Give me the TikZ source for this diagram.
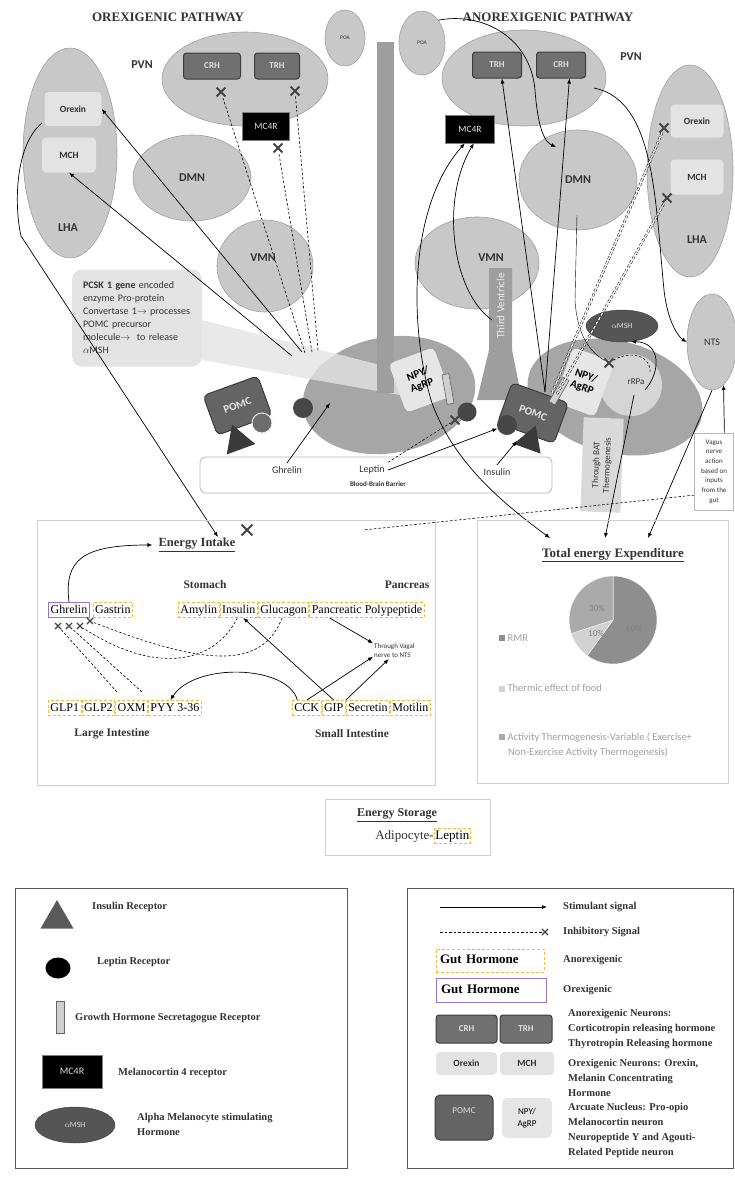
\documentclass[tikz,border=0pt]{standalone}
\usepackage{fontspec}
\setmainfont{Liberation Serif}
\setsansfont{Carlito}
\usepackage{tikz}
\usetikzlibrary{arrows.meta,shapes.geometric,shapes.misc,positioning}
\newcommand{\fsz}[1]{\fontsize{#1}{#1}\selectfont}
\newcommand{\lsz}[2]{\fontsize{#1}{#2}\selectfont}
\newcommand{\sq}[1]{\textcolor{#1}{\rule{6pt}{6pt}}}
\definecolor{nucfill}{HTML}{C8C8C8}
\definecolor{nucline}{HTML}{A0A0A0}
\definecolor{arcfill}{HTML}{A6A6A6}
\definecolor{neurfill}{HTML}{707070}
\definecolor{neurline}{HTML}{3C3C3C}
\definecolor{neurtext}{HTML}{E0E0E0}
\definecolor{boxfill}{HTML}{E3E3E3}
\definecolor{pomcfill}{HTML}{646464}
\definecolor{npyfill}{HTML}{E6E6E6}
\definecolor{stemgray}{HTML}{9E9E9E}
\definecolor{xgray}{HTML}{444444}
\definecolor{gutyellow}{HTML}{F2BE2C}
\definecolor{gutpurple}{HTML}{9575C8}
\definecolor{panelline}{HTML}{D0D0D0}
\definecolor{labdark}{HTML}{333333}
\definecolor{txtgray}{HTML}{9E9E9E}
\definecolor{pieA}{HTML}{8E8E8E}
\definecolor{pieB}{HTML}{D2D2D2}
\definecolor{pieC}{HTML}{AAAAAA}
\definecolor{lepfill}{HTML}{474747}
\definecolor{insfill}{HTML}{3A3A3A}
\definecolor{ghsrfill}{HTML}{CFCFCF}
\definecolor{ghsrline}{HTML}{666666}
\definecolor{amshfill}{HTML}{555555}
\definecolor{rrpafill}{HTML}{D5D5D5}
\definecolor{batfill}{HTML}{D9D9D9}
\definecolor{bbbline}{HTML}{B8B8B8}
\definecolor{legtri}{HTML}{5A5A5A}

\tikzset{
  nucleus/.style={ellipse, draw=nucline, fill=nucfill, line width=0.6pt, inner sep=0pt,
    text=labdark, font=\sffamily\bfseries\fsz{12}},
  nuclab/.style={text=labdark, font=\sffamily\bfseries\fsz{12}},
  neuron/.style={rectangle, rounded corners=3pt, draw=neurline, fill=neurfill, line width=1pt,
    text=neurtext, font=\sffamily\bfseries\fsz{9}, inner sep=0pt},
  orexbox/.style={rectangle, rounded corners=4pt, fill=boxfill, text=labdark,
    font=\sffamily\bfseries\fsz{9.5}, inner sep=0pt},
  mcbox/.style={rectangle, fill=black, draw=gray, line width=0.6pt, text=neurtext,
    font=\sffamily\fsz{9.5}, inner sep=0pt},
  pomcbox/.style={rectangle, rounded corners=5pt, draw=neurline, fill=pomcfill, line width=1pt,
    text=white!90!black, font=\sffamily\bfseries\fsz{11}, inner sep=0pt},
  npybox/.style={rectangle, rounded corners=5pt, fill=npyfill, text=black, align=center,
    font=\sffamily\bfseries\lsz{11}{12}, inner sep=0pt},
  ghsr/.style={rectangle, draw=ghsrline, fill=ghsrfill, line width=0.6pt,
    minimum width=7, minimum height=28, inner sep=0pt},
  leprec/.style={circle, fill=lepfill, minimum size=19, inner sep=0pt},
  insrec/.style={regular polygon, regular polygon sides=3, fill=insfill, minimum size=34, inner sep=0pt},
  xmark/.style={cross out, draw=xgray, line width=1.8pt, minimum size=7, inner sep=0pt},
  xsmall/.style={cross out, draw=xgray, line width=1.1pt, minimum size=5, inner sep=0pt},
  sig/.style={-{Latex[length=5pt,width=4pt]}, line width=0.7pt},
  inh/.style={dash pattern=on 2.5pt off 2pt, line width=0.6pt},
  inhpair/.style={dash pattern=on 3pt off 2pt, double=white, double distance=1.4pt, line width=0.5pt},
  anorex/.style={draw=gutyellow, dash pattern=on 3pt off 2pt, line width=0.9pt, font=\fsz{12},
    text height=8.5pt, text depth=2.5pt, inner xsep=2pt, inner ysep=2pt},
  orex/.style={draw=gutpurple, line width=0.9pt, font=\fsz{12},
    text height=8.5pt, text depth=2.5pt, inner xsep=2pt, inner ysep=2pt},
  panel/.style={draw=panelline, line width=0.6pt},
  pathtitle/.style={font=\bfseries\fsz{13}, text=labdark},
  heading/.style={font=\bfseries\fsz{12.5}, text=labdark},
  organ/.style={font=\bfseries\fsz{11.5}, text=labdark},
  smalltxt/.style={font=\sffamily\fsz{10}, text=labdark},
  pielab/.style={font=\sffamily\fsz{9}, text=gray},
  pieleg/.style={font=\sffamily\lsz{10.5}{15}, text=txtgray, anchor=west, align=left, inner sep=0pt},
  legtxt/.style={font=\bfseries\lsz{10.5}{15}, text=labdark, anchor=west, align=left, inner sep=0pt}
}

\begin{document}
\begin{tikzpicture}[x=1pt,y=-1pt]
  \useasboundingbox (0,0) rectangle (734,1178);
  %\draw[help lines] (0,0) grid[step=50] (734,1178);

  % orexigenic pathway
  \node[pathtitle] (orextitle) at (168,17) {OREXIGENIC PATHWAY};
  \node[nucleus, minimum width=94, minimum height=210] (lhaL) at (70,153) {};
  \node[orexbox, minimum width=57, minimum height=34] (orexL) at (73,109) {Orexin};
  \node[orexbox, minimum width=54, minimum height=35] (mchL) at (69,155) {MCH};
  \node[nuclab] (lhaLlab) at (68,228) {LHA};
  \node[nucleus, minimum width=166, minimum height=94] (pvnL) at (245,79) {};
  \node[nuclab] (pvnLlab) at (142,65) {PVN};
  \node[neuron, minimum width=57, minimum height=26] (crhL) at (212,66) {CRH};
  \node[neuron, minimum width=45, minimum height=26] (trhL) at (277,66) {TRH};
  \node[mcbox, minimum width=47, minimum height=28] (mcL) at (266,126) {MC4R};
  \node[xmark] (xcrhL) at (221,92) {};
  \node[xmark] (xtrhL) at (295,91) {};
  \node[xmark] (xmcL) at (278,148) {};
  \node[nucleus, minimum width=40, minimum height=56, font=\sffamily\fsz{5.5}] (poaL) at (345,38) {POA};
  \node[nucleus, minimum width=118, minimum height=86] (dmnL) at (192,178) {DMN};
  \node[nucleus, minimum width=96, minimum height=92] (vmnL) at (265,266) {};
  \node[nuclab] (vmnLlab) at (263,258) {VMN};

  % anorexigenic pathway
  \node[pathtitle] (anortitle) at (548,17) {ANOREXIGENIC PATHWAY};
  \node[nucleus, minimum width=46, minimum height=64, font=\sffamily\fsz{5.5}] (poaR) at (422,43) {POA};
  \node[nucleus, minimum width=164, minimum height=96] (pvnR) at (524,78) {};
  \node[nuclab] (pvnRlab) at (631,57) {PVN};
  \node[neuron, minimum width=49, minimum height=26] (trhR) at (497,65) {TRH};
  \node[neuron, minimum width=49, minimum height=26] (crhR) at (561,65) {CRH};
  \node[mcbox, minimum width=49, minimum height=28] (mcR) at (470,129) {MC4R};
  \node[nucleus, minimum width=118, minimum height=100] (dmnR) at (578,180) {DMN};
  \node[nucleus, minimum width=124, minimum height=92] (vmnR) at (477,263) {};
  \node[nuclab] (vmnRlab) at (491,258) {VMN};
  \node[nucleus, minimum width=86, minimum height=212] (lhaR) at (690,171) {};
  \node[orexbox, minimum width=53, minimum height=33] (orexR) at (697,121) {Orexin};
  \node[orexbox, minimum width=53, minimum height=35] (mchR) at (697,177) {MCH};
  \node[nuclab] (lhaRlab) at (697,240) {LHA};
  \node[xmark] (xorexR) at (664,128) {};
  \node[xmark] (xmchR) at (667,198) {};

  % arcuate nucleus and ventricle
  \node[ellipse, fill=arcfill, minimum width=174, minimum height=116, rotate=10, inner sep=0pt] (arcL) at (389,395) {};
  \node[ellipse, fill=arcfill, minimum width=178, minimum height=112, rotate=-14, inner sep=0pt] (arcR) at (615,397) {};
  \fill[boxfill, opacity=0.8] (202,320) -- (400,370) -- (400,395) -- (202,360) -- cycle;
  \node[rectangle, rounded corners=10pt, fill=boxfill, minimum width=130, minimum height=97,
    text width=108, align=left, inner sep=0pt, font=\sffamily\lsz{10}{13}, text=labdark] (pcsk) at (137,318)
    {\textbf{PCSK 1 gene} encoded\\enzyme Pro-protein\\Convertase 1$\rightarrow$ processes\\POMC precursor\\molecule$\rightarrow$\ \ to release\\$\alpha$MSH};
  \node[rectangle, fill=stemgray, minimum width=17, minimum height=351, inner sep=0pt] (bar) at (385.5,217.5) {};
  \fill[stemgray] (489,268) -- (512,268) -- (512,350) -- (522,400) -- (477,400) -- (489,350) -- cycle;
  \node[rotate=90, font=\sffamily\fsz{11}, text=white!85!gray] (ventlab) at (500.5,306) {Third Ventricle};
  \node[circle, fill=rrpafill, minimum size=62, inner sep=0pt] (rrpa) at (631,385) {};
  \node[font=\sffamily\fsz{9}, text=labdark] (rrpalab) at (636,382) {rRPa};
  \node[ellipse, fill=amshfill, draw=neurline, minimum width=72, minimum height=32, inner sep=0pt,
    font=\sffamily\fsz{8}, text=neurtext] (amsh) at (622,326) {$\alpha$MSH};
  \node[nucleus, minimum width=50, minimum height=96, font=\sffamily\fsz{10}] (nts) at (712,342) {NTS};
  \node[rectangle, fill=batfill, minimum width=94, minimum height=40, rotate=88, inner sep=0pt,
    align=center, font=\sffamily\lsz{9}{11}, text=labdark] (bat) at (602,465) {Through BAT\\Thermogenesis};
  \node[rectangle, draw=bbbline, fill=white, line width=0.6pt, minimum width=39, minimum height=77,
    inner sep=0pt, align=center, font=\sffamily\lsz{7}{9.7}, text=labdark] (vagus) at (714,471.5)
    {Vagus\\nerve\\action\\based on\\inputs\\from the\\gut};

  % neurons of the arcuate nucleus
  \node[npybox, minimum width=48, minimum height=52, rotate=20] (npyL) at (420,380) {NPY/\\AgRP};
  \node[ghsr, minimum height=30, rotate=10] (ghsrL) at (448,389) {};
  \node[leprec] (lepNpyL) at (467,412) {};
  \node[xmark] (xnpyL) at (455,420) {};
  \node[leprec, minimum size=20] (lepArcL) at (303,408) {};
  \node[pomcbox, minimum width=58, minimum height=42, rotate=20] (pomcL) at (237.5,405.5) {POMC};
  \node[circle, fill=lepfill!80!white, draw=white!85!gray, line width=1pt, minimum size=20, inner sep=0pt] (lepPomcL) at (262,423) {};
  \node[insrec, minimum size=35, rotate=20] (triL) at (238,441) {};
  \node[npybox, minimum width=44, minimum height=58, rotate=-20] (npyR) at (584,382) {NPY/\\AgRP};
  \node[pomcbox, minimum width=60, minimum height=43, rotate=-20] (pomcR) at (533,413) {POMC};
  \node[ghsr, minimum height=28, rotate=-30] (ghsrR) at (559,391) {};
  \node[leprec, minimum size=20] (lepPomcR) at (507,425) {};
  \node[insrec, minimum size=33, rotate=-20] (triR) at (530,441) {};
  \node[xmark] (xrrpa) at (609,363) {};

  % blood-brain barrier
  \node[rectangle, rounded corners=6pt, draw=bbbline, fill=white, line width=0.8pt,
    minimum width=352, minimum height=36] (bbb) at (376,475) {};
  \node[smalltxt] (ghrelinB) at (287,470) {Ghrelin};
  \node[smalltxt] (leptinB) at (372,470) {Leptin};
  \node[smalltxt] (insulinB) at (497,472) {Insulin};
  \node[font=\sffamily\bfseries\fsz{7}, text=labdark] (bbblab) at (378,484) {Blood-Brain Barrier};

  % hypothalamic signals
  \coordinate (arcL1) at (302,352);
  \coordinate (arcL2) at (292,356);
  \coordinate (dL1) at (305,353);
  \coordinate (dL2) at (312,352);
  \coordinate (dL3) at (318,350);
  \coordinate (lhaOut) at (42,123);
  \coordinate (eiIn) at (218,537);
  \draw[sig] (arcL1) -- (orexL.east);
  \draw[sig] (arcL2) -- (mchL.south);
  \draw[inh] (dL1) -- (xcrhL);
  \draw[inh] (dL2) -- (xmcL);
  \draw[inh] (dL3) -- (xtrhL);
  \draw[sig] (lhaOut) .. controls (15,145) and (14,205) .. (21,236) -- (eiIn);

  \coordinate (dmnRin) at (556,147);
  \coordinate (pomcRtop) at (545,392);
  \coordinate (dmnRout) at (577,215);
  \coordinate (pvnRout) at (594,88);
  \coordinate (rrpaOut) at (645,390);
  \coordinate (rrpaDown) at (634,395);
  \coordinate (npyLpass) at (431,400);
  \coordinate (vmnRout) at (492,320);
  \coordinate (pomcRd1) at (552,393);
  \coordinate (pomcRd2) at (557,394);
  \coordinate (teeIn1) at (550,538);
  \coordinate (teeIn2) at (605,538);
  \coordinate (teeIn3) at (648,538);
  \coordinate (eiDash) at (363,530);
  \coordinate (arcLin) at (330,403);
  \draw[sig] (poaR.north east) .. controls (480,12) and (530,35) .. (535,90)
    .. controls (538,130) and (545,142) .. (dmnRin);
  \draw[sig] (pomcRtop) -- (trhR.-70);
  \draw[sig] (pomcRtop) -- (crhR.-58);
  \draw (dmnRout) -- (575,300) .. controls (577,335) and (590,352) .. (xrrpa);
  \draw[inh] (xrrpa) .. controls (630,350) and (652,355) .. (650,374);
  \draw[sig] (rrpaOut) .. controls (662,370) and (660,342) .. (amsh.-60);
  \draw[sig] (pvnRout) .. controls (655,100) and (655,200) .. (664,290)
    .. controls (668,325) and (680,338) .. (nts.west);
  \draw[sig] (npyLpass) .. controls (408,320) and (410,205) .. (mcR.-110);
  \draw[sig] (npyLpass) .. controls (452,462) and (505,505) .. (teeIn1);
  \draw[sig] (vmnRout) .. controls (452,292) and (440,200) .. (mcR.-75);
  \draw[inhpair] (pomcRd1) -- (xorexR);
  \draw[inhpair] (pomcRd2) -- (xmchR);
  \draw[sig] (rrpaDown) -- (teeIn2);
  \draw[sig] (nts.south) -- (teeIn3);
  \draw[sig] (vagus.75) -- (nts.-75);
  \draw[inh] (vagus.230) -- (eiDash);
  \draw[sig] (ghrelinB.north) -- (arcLin);
  \draw[sig] (leptinB.east) -- (lepPomcR.200);
  \draw[inh] (leptinB.north east) -- (xnpyL);
  \draw[sig] (insulinB.north) -- (triR.200);

  % energy intake
  \node[panel, minimum width=398, minimum height=265] (eipanel) at (236,652.5) {};
  \node[xmark, minimum size=9] (xei) at (247,530) {};
  \node[heading, inner xsep=6pt] (eilab) at (197,545) {\underline{Energy Intake}};
  \node[organ] (stomach) at (205,585) {Stomach};
  \node[organ] (pancreas) at (407,585) {Pancreas};
  \node[orex] (ghrelin) at (69,610) {Ghrelin};
  \node[anorex, right=3pt of ghrelin] (gastrin) {Gastrin};
  \node[anorex, anchor=west] (amylin) at (178,610) {Amylin};
  \node[anorex, right=0pt of amylin] (insulinG) {Insulin};
  \node[anorex, right=0pt of insulinG] (glucagon) {Glucagon};
  \node[anorex, right=0pt of glucagon] (ppoly) {Pancreatic Polypeptide};
  \node[xsmall] (xg1) at (58,626) {};
  \node[xsmall] (xg2) at (69,626) {};
  \node[xsmall] (xg3) at (80,626) {};
  \node[xsmall] (xg4) at (90,621) {};
  \node[font=\sffamily\lsz{7}{9}, align=left, anchor=west, inner sep=1pt, text=labdark] (vagalT) at (373,651) {Through Vagal\\nerve to NTS};
  \node[anorex, anchor=west] (glp1) at (48,708) {GLP1};
  \node[anorex, right=0pt of glp1] (glp2) {GLP2};
  \node[anorex, right=0pt of glp2] (oxm) {OXM};
  \node[anorex, right=0pt of oxm] (pyy) {PYY 3-36};
  \node[anorex, anchor=west] (cck) at (292,708) {CCK};
  \node[anorex, right=0pt of cck] (gip) {GIP};
  \node[anorex, right=0pt of gip] (secretin) {Secretin};
  \node[anorex, right=0pt of secretin] (motilin) {Motilin};
  \node[organ] (largeint) at (112,734) {Large Intestine};
  \node[organ] (smallint) at (352,734) {Small Intestine};
  \coordinate (li1) at (117,692);
  \coordinate (li2) at (142,692);
  \draw[sig] (ghrelin.north) .. controls (64,560) and (82,545) .. (eilab.west);
  \draw[sig] (ppoly.192) -- (vagalT.160);
  \draw[sig] (cck.north) -- (vagalT.195);
  \draw[sig] (gip.north east) -- (vagalT.235);
  \draw[sig] (gip.north) -- (insulinG.-60);
  \draw[sig] (cck.140) .. controls (288,665) and (195,662) .. (pyy.120);
  \draw[inh] (insulinG.-100) .. controls (212,668) and (150,672) .. (xg3);
  \draw[inh] (glucagon.-100) .. controls (262,668) and (210,668) .. (xg4);
  \draw[inh] (li1) -- (xg1);
  \draw[inh] (li2) -- (xg2);

  % energy expenditure
  \node[panel, minimum width=251, minimum height=263] (eepanel) at (602.5,651.5) {};
  \node[heading, font=\bfseries\fsz{13}] (eelab) at (613,555) {\underline{Total energy Expenditure}};
  \coordinate (piec) at (613,620);
  \filldraw[fill=pieA, draw=white!90!gray, line width=0.5pt] (piec) -- ++(90:44pt)
    arc[start angle=90, end angle=-126, radius=44pt] -- cycle;
  \filldraw[fill=pieB, draw=white!90!gray, line width=0.5pt] (piec) -- ++(-126:44pt)
    arc[start angle=-126, end angle=-162, radius=44pt] -- cycle;
  \filldraw[fill=pieC, draw=white!90!gray, line width=0.5pt] (piec) -- ++(-162:44pt)
    arc[start angle=-162, end angle=-270, radius=44pt] -- cycle;
  \node[pielab] (p60) at (634,628) {60\%};
  \node[pielab] (p10) at (596,633) {10\%};
  \node[pielab] (p30) at (597,608) {30\%};
  \node[pieleg] (legrmr) at (499,638) {\sq{pieA} RMR};
  \node[pieleg] (legtef) at (499,688) {\sq{pieB} Thermic effect of food};
  \node[pieleg] (legat) at (499,745) {\sq{pieC} Activity Thermogenesis-Variable ( Exercise+\\\hspace*{9pt}Non-Exercise Activity Thermogenesis)};

  % energy storage
  \node[panel, minimum width=165, minimum height=56] (storepanel) at (407.5,827) {};
  \node[heading, font=\bfseries\fsz{12}] (storelab) at (397,815) {\underline{Energy Storage}};
  \node[font=\fsz{13}, anchor=east, inner sep=0pt, text=labdark] (adipo) at (434,836) {Adipocyte-};
  \node[anorex, font=\fsz{13}, anchor=west, inner xsep=1pt] (leptinS) at (434,836) {Leptin};

  % legend: receptors
  \node[panel, draw=black!65, minimum width=332, minimum height=280] (legL) at (181,1028) {};
  \node[insrec, fill=legtri, minimum size=38] (legins) at (57,919) {};
  \node[legtxt] (leginsT) at (92,907) {Insulin Receptor};
  \node[ellipse, fill=black, minimum width=25, minimum height=21, inner sep=0pt] (leglep) at (58,968) {};
  \node[legtxt] (leglepT) at (97,962) {Leptin Receptor};
  \node[ghsr, minimum width=8, minimum height=32] (legghsr) at (60,1017) {};
  \node[legtxt] (legghsrT) at (75,1018) {Growth Hormone Secretagogue Receptor};
  \node[mcbox, minimum width=60, minimum height=33, font=\sffamily\fsz{10}] (legmc) at (72,1071.5) {MC4R};
  \node[legtxt] (legmcT) at (118,1073) {Melanocortin 4 receptor};
  \node[ellipse, fill=amshfill, draw=neurline, minimum width=80, minimum height=36, inner sep=0pt,
    font=\sffamily\fsz{8}, text=neurtext] (legamsh) at (75,1125) {$\alpha$MSH};
  \node[legtxt] (legamshT) at (137,1124.5) {Alpha Melanocyte stimulating\\Hormone};

  % legend: signals and neurons
  \node[panel, draw=black!65, minimum width=326, minimum height=280] (legR) at (570,1028) {};
  \coordinate (legsA) at (440,907);
  \coordinate (legsB) at (547,907);
  \draw[sig] (legsA) -- (legsB);
  \node[legtxt] (legsT) at (563,907) {Stimulant signal};
  \coordinate (legiA) at (440,932);
  \node[xsmall] (legx) at (545,932) {};
  \draw[inh] (legiA) -- (legx);
  \node[legtxt] (legiT) at (563,932) {Inhibitory Signal};
  \node[anorex, font=\bfseries\fsz{13}, minimum width=108, minimum height=23, text width=100,
    align=left] (legan) at (490,960.5) {Gut Hormone};
  \node[legtxt] (legaT) at (563,960) {Anorexigenic};
  \node[orex, font=\bfseries\fsz{13}, minimum width=110, minimum height=24, text width=100,
    align=left] (legor) at (491,990) {Gut Hormone};
  \node[legtxt] (legoT) at (563,990) {Orexigenic};
  \node[neuron, minimum width=61, minimum height=28] (legcrh) at (466.5,1029) {CRH};
  \node[neuron, minimum width=52, minimum height=28] (legtrh) at (526,1029) {TRH};
  \node[legtxt] (legnT) at (568,1029) {Anorexigenic Neurons:\\Corticotropin releasing hormone\\Thyrotropin Releasing hormone};
  \node[orexbox, minimum width=61, minimum height=23] (legorex) at (466.5,1063.5) {Orexin};
  \node[orexbox, minimum width=54, minimum height=23] (legmch) at (527,1063.5) {MCH};
  \node[legtxt] (legonT) at (568,1077.5) {Orexigenic Neurons: Orexin,\\Melanin Concentrating\\Hormone};
  \node[pomcbox, minimum width=58, minimum height=45] (legpomc) at (464,1117.5) {};
  \node[font=\sffamily\fsz{9}, text=neurtext] (legpomcT) at (464,1111) {POMC};
  \node[npybox, minimum width=50, minimum height=40, font=\sffamily\lsz{9}{12}] (legnpy) at (527,1118) {NPY/\\AgRP};
  \node[legtxt] (legarcT) at (568,1130) {Arcuate Nucleus: Pro-opio\\Melanocortin neuron\\Neuropeptide Y and Agouti-\\Related Peptide neuron};
\end{tikzpicture}
\end{document}
